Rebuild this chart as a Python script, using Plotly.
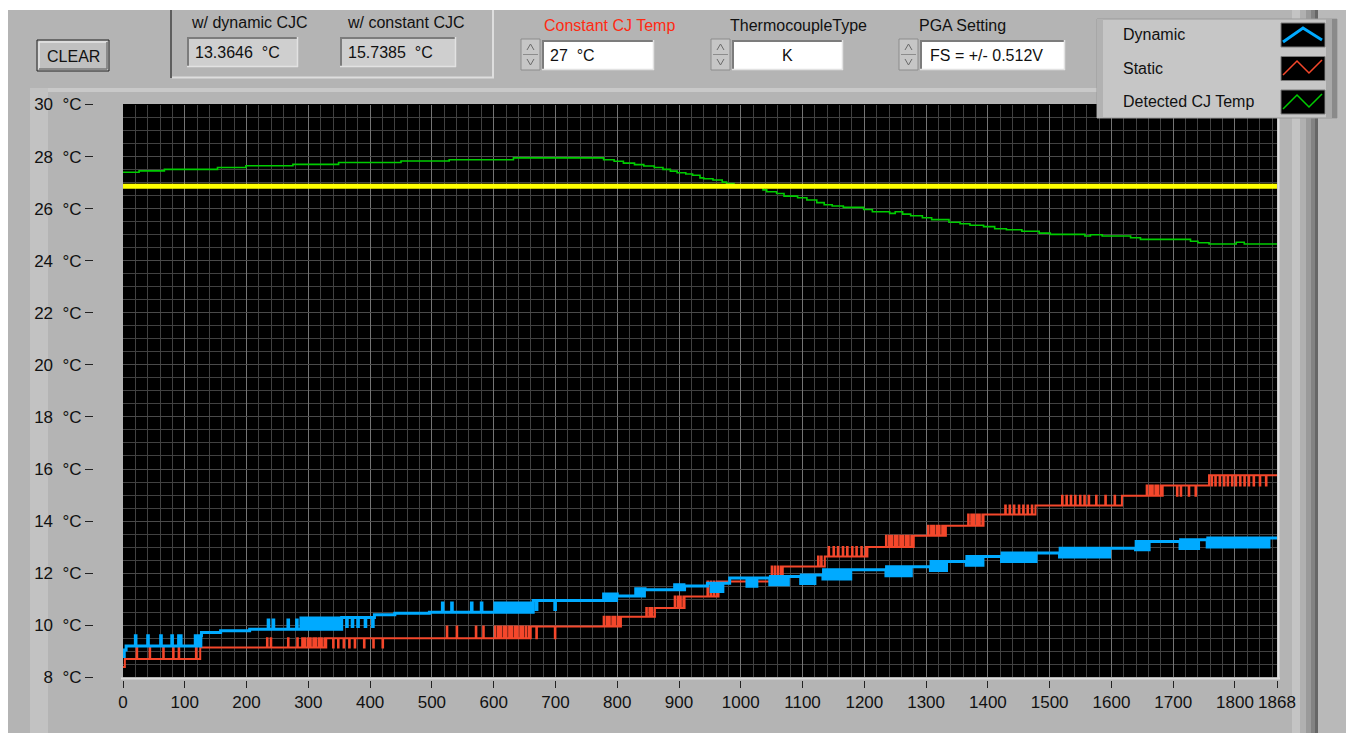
import numpy as np
import plotly.graph_objects as go

W, H = 1346, 733
N_SAMPLES = 1869

# ---------------- data ----------------
X_TICKS = [0, 100, 200, 300, 400, 500, 600, 700, 800, 900, 1000, 1100, 1200,
           1300, 1400, 1500, 1600, 1700, 1800, 1868]
Y_TICKS = [8, 10, 12, 14, 16, 18, 20, 22, 24, 26, 28, 30]
Y_TICK_TEXT = [f"{v}\u00a0\u00a0°C" for v in Y_TICKS]

CONSTANT_CJ = 26.86

GREEN_STEP_X = [0, 26, 67, 153, 199, 275, 349, 450, 528, 632,
                778, 795, 810, 828, 843, 860, 874, 886, 897, 911,
                922, 934, 940, 955, 970, 977, 989, 1036, 1042, 1058,
                1070, 1092, 1107, 1123, 1135, 1148, 1166, 1199, 1213, 1241,
                1250, 1262, 1275, 1294, 1309, 1337, 1355, 1371, 1393, 1411,
                1430, 1455, 1483, 1501, 1557, 1566, 1585, 1631, 1647, 1728,
                1740, 1758, 1802, 1815]
GREEN_STEP_V = [27.40, 27.45, 27.51, 27.58, 27.65, 27.70, 27.77, 27.83, 27.88, 27.95,
                27.88, 27.82, 27.75, 27.69, 27.64, 27.58, 27.51, 27.44, 27.38, 27.33,
                27.28, 27.18, 27.15, 27.10, 27.02, 26.96, 26.88, 26.72, 26.65, 26.58,
                26.48, 26.42, 26.33, 26.23, 26.15, 26.10, 26.05, 25.97, 25.88, 25.82,
                25.88, 25.79, 25.73, 25.65, 25.58, 25.48, 25.42, 25.36, 25.31, 25.23,
                25.19, 25.13, 25.06, 25.01, 24.95, 25.00, 24.95, 24.88, 24.82, 24.75,
                24.69, 24.64, 24.71, 24.64]

STATIC_STEP_X = [0, 3, 125, 330, 660, 806, 862, 909, 964, 1068, 1137, 1205, 1280,
                 1332, 1393, 1477, 1617, 1683, 1758]
STATIC_STEP_V = [8.40, 8.70, 9.14, 9.50, 9.95, 10.33, 10.66, 11.10, 11.68, 12.26, 12.64,
                 13.00, 13.44, 13.82, 14.25, 14.60, 14.97, 15.37, 15.76]
STATIC_NOISE_X = [
    [22, 43, 65, 81, 90, 118],
    [233, 239, 267, 282, 290, 294, 299, 303, 308, 312, 317, 321, 326, 329],
    [340, 348, 357, 366, 375, 390, 405, 420],
    [524, 540, 571, 583, 602, 607, 611, 616, 620, 625, 629, 634, 638, 643, 647, 652, 657],
    [669, 699],
    [778, 783, 787, 792, 796, 801, 804],
    [847, 852, 856, 861],
    [893, 898, 902, 907],
    [946, 951, 956, 961],
    [1050, 1055, 1060, 1065],
    [1125, 1130, 1136],
    [1142, 1150, 1157, 1165, 1172, 1180, 1187, 1195, 1202],
    [1235, 1240, 1244, 1249, 1253, 1258, 1262, 1267, 1271, 1276],
    [1303, 1308, 1312, 1317, 1321, 1326, 1330],
    [1368, 1373, 1377, 1382, 1386, 1391],
    [1428, 1435, 1442, 1450, 1457, 1464, 1471],
    [1520, 1527, 1534, 1541, 1549, 1556, 1563, 1575, 1590, 1605],
    [1657, 1662, 1666, 1671, 1675, 1680],
    [1706, 1712, 1725, 1736],
    [1762, 1768, 1775, 1782, 1788, 1795, 1801, 1808, 1815, 1822, 1830, 1840, 1850],
]
STATIC_NOISE_V = [9.14, 9.50, 9.14, 9.95, 9.50, 10.33, 10.66, 11.10, 11.68, 12.26, 12.64,
                  13.00, 13.44, 13.82, 14.25, 14.60, 14.97, 15.37, 14.97, 15.37]

DYNAMIC_STEP_X = [0, 2, 5, 127, 158, 205, 354, 407, 440, 496, 664, 800, 845, 909, 946,
                  982, 1047, 1097, 1133, 1235, 1307, 1365, 1422, 1516, 1639, 1711, 1755]
DYNAMIC_STEP_V = [8.80, 9.05, 9.20, 9.72, 9.79, 9.85, 10.30, 10.40, 10.46, 10.50, 10.95,
                  11.12, 11.36, 11.51, 11.61, 11.81, 11.87, 11.93, 12.13, 12.25, 12.45,
                  12.64, 12.77, 12.96, 13.22, 13.28, 13.35]
DYNAMIC_NOISE_X = [
    [20, 40, 61, 79, 90, 93, 117, 120, 123, 126],
    [235, 243, 267, 281],
    [288, 291, 295, 298, 302, 305, 309, 312, 316, 319, 323, 327, 330, 334, 337, 341,
     345, 348, 352],
    [362, 371, 380, 392, 404],
    [517, 532, 564, 580, 602, 605, 609, 612, 616, 620, 623, 627, 630, 634, 638, 641,
     645, 648, 652, 656, 659],
    [669, 699],
    [778, 782, 785, 789, 792, 796, 799],
    [830, 834, 837, 841, 844],
    [893, 897, 900, 904, 907],
    [952, 956, 959, 963, 967, 970],
    [1010, 1014, 1018, 1022, 1025],
    [1047, 1051, 1054, 1058, 1062, 1065, 1069, 1073, 1076],
    [1097, 1101, 1104, 1108, 1112, 1115, 1119],
    [1133, 1137, 1140, 1144, 1148, 1151, 1155, 1159, 1162, 1166, 1170, 1173, 1177],
    [1235, 1239, 1242, 1246, 1250, 1253, 1257, 1261, 1264, 1268, 1272, 1275],
    [1307, 1311, 1314, 1318, 1322, 1325, 1329, 1332],
    [1365, 1369, 1372, 1376, 1380, 1383, 1387, 1391],
    [1422, 1426, 1429, 1433, 1437, 1440, 1444, 1448, 1451, 1455, 1459, 1462, 1466,
     1470, 1473, 1477],
    [1516, 1520, 1523, 1527, 1531, 1534, 1538, 1542, 1545, 1549, 1553, 1556, 1560,
     1564, 1567, 1571, 1575, 1578, 1582, 1586, 1589, 1593, 1596],
    [1639, 1643, 1646, 1650, 1654, 1657, 1660],
    [1711, 1715, 1718, 1722, 1726, 1729, 1733, 1737, 1740],
    [1755, 1759, 1762, 1766, 1770, 1773, 1777, 1781, 1784, 1788, 1792, 1795, 1799,
     1803, 1806, 1810, 1814, 1817, 1821, 1825, 1828, 1832, 1836, 1839, 1843, 1847,
     1850, 1854],
]
DYNAMIC_NOISE_V = [9.60, 10.20, 10.28, 9.95, 10.85, 10.60, 11.20, 11.40, 11.55, 11.30,
                   11.50, 11.55, 11.60, 11.78, 11.90, 12.10, 12.30, 12.45, 12.62, 12.90,
                   12.95, 13.00]

DYNAMIC_READOUT = "13.3646\u00a0\u00a0°C"
STATIC_READOUT = "15.7385\u00a0\u00a0°C"
CONST_CJ_TEXT = "27\u00a0\u00a0°C"
TC_TYPE = "K"
PGA_TEXT = "FS = +/- 0.512V"


def build(step_x, step_v, noise_x=(), noise_v=()):
    y = np.empty(N_SAMPLES)
    bounds = list(step_x) + [N_SAMPLES]
    for i, v in enumerate(step_v):
        y[bounds[i]:bounds[i + 1]] = v
    for xs_, v in zip(noise_x, noise_v):
        y[np.array(xs_)] = v
    return y


xs = np.arange(N_SAMPLES)
y_green = build(GREEN_STEP_X, GREEN_STEP_V)
y_static = build(STATIC_STEP_X, STATIC_STEP_V, STATIC_NOISE_X, STATIC_NOISE_V)
y_dynamic = build(DYNAMIC_STEP_X, DYNAMIC_STEP_V, DYNAMIC_NOISE_X, DYNAMIC_NOISE_V)
y_const = np.full(N_SAMPLES, CONSTANT_CJ)

BLUE = "#00aaff"
RED = "#f4472b"
GREEN = "#00cc00"
YELLOW = "#ffff00"
FONT = "Liberation Sans"

fig = go.Figure()
fig.add_trace(go.Scatter(x=xs, y=y_green, mode="lines", line=dict(color=GREEN, width=1.6, shape="hv"),
                         name="Detected CJ Temp", hoverinfo="skip"))
fig.add_trace(go.Scatter(x=xs, y=y_const, mode="lines", line=dict(color=YELLOW, width=5),
                         name="Constant CJ", hoverinfo="skip"))
fig.add_trace(go.Scatter(x=xs, y=y_static, mode="lines", line=dict(color=RED, width=2, shape="hv"),
                         name="Static", hoverinfo="skip"))
fig.add_trace(go.Scatter(x=xs, y=y_dynamic, mode="lines", line=dict(color=BLUE, width=3, shape="hv"),
                         name="Dynamic", hoverinfo="skip"))


def P(px):
    return px / W


def Q(py):
    return 1 - py / H


shapes = []
annots = []


def rect(x0, y0, x1, y1, fill, line=None, lw=0, layer="below"):
    shapes.append(dict(type="rect", xref="paper", yref="paper", x0=P(x0), x1=P(x1),
                       y0=Q(y1), y1=Q(y0), fillcolor=fill, layer=layer,
                       line=dict(color=line or fill, width=lw)))


def hline(x0, x1, y, color, w=1, layer="below"):
    shapes.append(dict(type="line", xref="paper", yref="paper", x0=P(x0), x1=P(x1),
                       y0=Q(y), y1=Q(y), layer=layer, line=dict(color=color, width=w)))


def vline(x, y0, y1, color, w=1, layer="below"):
    shapes.append(dict(type="line", xref="paper", yref="paper", x0=P(x), x1=P(x),
                       y0=Q(y0), y1=Q(y1), layer=layer, line=dict(color=color, width=w)))


def path(pts, color, w, layer="above"):
    d = "M " + " L ".join(f"{P(a):.5f},{Q(b):.5f}" for a, b in pts)
    shapes.append(dict(type="path", xref="paper", yref="paper", path=d, layer=layer,
                       line=dict(color=color, width=w)))


def text(x, y, s, size=16, color="#111111", xanchor="left"):
    annots.append(dict(x=P(x), y=Q(y), xref="paper", yref="paper", text=s, showarrow=False,
                       xanchor=xanchor, yanchor="middle",
                       font=dict(family=FONT, size=size, color=color)))


PANEL = "#b4b4b4"
rect(8, 10, 1346, 733, PANEL)
rect(30, 88, 1292, 92, "#c9c9c9")
rect(30, 88, 48, 733, "#c2c2c2")
rect(1292, 10, 1300, 733, "#c4c4c4")
rect(1300, 10, 1306, 733, "#b0b0b0")
rect(1306, 10, 1311, 733, "#9a9a9a")
rect(1311, 10, 1315, 733, "#828282")
rect(1315, 10, 1318, 733, "#666666")
rect(1318, 10, 1346, 733, "#b9b9b9")
rect(123, 104, 1277, 677.3, "#000000")
hline(121, 1280, 678.5, "#dcdcdc", 2, layer="above")
vline(1278.5, 103, 679, "#dcdcdc", 2, layer="above")

# CLEAR button
rect(37, 40, 109, 71, "#c0c0c0", "#202020", 1)
hline(39, 107, 42, "#e6e6e6", 1.5)
vline(39, 42, 69, "#e6e6e6", 1.5)
hline(39, 107, 69, "#7a7a7a", 1.5)
vline(107, 42, 69, "#7a7a7a", 1.5)
text(73, 56, "CLEAR", 16, xanchor="center")

# group box
vline(171, 10, 78, "#5e5e5e", 2)
hline(172, 494, 77.5, "#dedede", 2)
vline(493, 10, 78, "#dedede", 2)
text(249, 22, "w/ dynamic CJC", 16, xanchor="center")
text(405, 22, "w/ constant CJC", 16, xanchor="center")


def recessed(x0, y0, x1, y1, fill):
    rect(x0, y0, x1, y1, fill)
    hline(x0, x1, y0 + 1, "#7c7c7c", 2)
    vline(x0 + 1, y0, y1, "#7c7c7c", 2)
    hline(x0, x1, y1 - 0.5, "#e2e2e2", 1.5)
    vline(x1 - 0.5, y0, y1, "#e2e2e2", 1.5)


recessed(187, 37, 298, 67, "#cfcfcf")
text(193, 52, DYNAMIC_READOUT, 16)
recessed(340, 37, 456, 67, "#cfcfcf")
text(346, 52, STATIC_READOUT, 16)


def spinner(x0, y0):
    rect(x0, y0, x0 + 19, y0 + 31, "#c6c6c6", "#8c8c8c", 1)
    hline(x0 + 2, x0 + 17, y0 + 15.5, "#8c8c8c", 1)
    path([(x0 + 6, y0 + 11), (x0 + 9.5, y0 + 5), (x0 + 13, y0 + 11)], "#6a6a6a", 1)
    path([(x0 + 6, y0 + 20), (x0 + 9.5, y0 + 26), (x0 + 13, y0 + 20)], "#6a6a6a", 1)


text(609, 26, "Constant CJ Temp", 16, color="#ff2a12", xanchor="center")
spinner(521, 39)
recessed(542, 40, 654, 70, "#ffffff")
text(548, 55, CONST_CJ_TEXT, 16)

text(798, 26, "ThermocoupleType", 16, xanchor="center")
spinner(711, 39)
recessed(732, 40, 843, 70, "#ffffff")
text(787, 55, TC_TYPE, 16, xanchor="center")

text(962, 26, "PGA Setting", 16, xanchor="center")
spinner(899, 39)
recessed(920, 40, 1065, 70, "#ffffff")
text(928, 55, PGA_TEXT, 16)

# legend panel
rect(1097, 19, 1337, 118, "#c6c6c6", "#9a9a9a", 1, layer="above")
rect(1097, 19, 1103, 118, "#b2b2b2", layer="above")
rect(1326, 19, 1337, 118, "#a8a8a8", layer="above")
rect(1332, 19, 1337, 118, "#8a8a8a", layer="above")
for i, (label, color, wdt, pts) in enumerate([
        ("Dynamic", BLUE, 3, [(1283, 42), (1303, 28), (1322, 40)]),
        ("Static", RED, 1.5, [(1283, 75), (1297, 61), (1309, 73), (1322, 60)]),
        ("Detected CJ Temp", GREEN, 1.5, [(1283, 109), (1297, 95), (1309, 107), (1322, 94)])]):
    yc = 35 + i * 33.5
    rect(1281, yc - 12, 1325, yc + 12, "#000000", "#7a7a7a", 1, layer="above")
    path(pts, color, wdt)
    text(1121, yc, label, 16)

fig.update_layout(
    width=W, height=H, autosize=False,
    margin=dict(l=0, r=0, t=0, b=0, pad=0, autoexpand=False),
    paper_bgcolor="#ffffff", plot_bgcolor="#000000",
    showlegend=False,
    shapes=shapes, annotations=annots,
    xaxis=dict(domain=[P(123), P(1277)], range=[0, 1868], anchor="free", position=Q(680),
               automargin=False,
               tickmode="array", tickvals=X_TICKS, ticktext=[str(v) for v in X_TICKS],
               ticks="outside", ticklen=7, tickcolor="#222222", tickwidth=1,
               tickfont=dict(family=FONT, size=17, color="#111111"),
               showgrid=True, gridcolor="#747474", gridwidth=1, zeroline=False,
               showline=False, fixedrange=True,
               minor=dict(tickmode="linear", tick0=0, dtick=20, showgrid=True,
                          gridcolor="#414141", gridwidth=1, ticks="")),
    yaxis=dict(domain=[Q(677.3), Q(104.5)], range=[8, 30], anchor="free", position=P(93),
               automargin=False,
               side="left", tickmode="array", tickvals=Y_TICKS, ticktext=Y_TICK_TEXT,
               ticks="outside", ticklen=8, tickcolor="#222222", tickwidth=1,
               tickfont=dict(family=FONT, size=17, color="#111111"),
               showgrid=True, gridcolor="#4a4a4a", gridwidth=1, zeroline=False,
               showline=False, fixedrange=True,
               minor=dict(tickmode="linear", tick0=8, dtick=0.5, showgrid=True,
                          gridcolor="#414141", gridwidth=1, ticks="")),
)

fig.write_html("out.html", config={"displayModeBar": False},
               post_script="document.body.style.margin='0';document.body.style.overflow='hidden';")
